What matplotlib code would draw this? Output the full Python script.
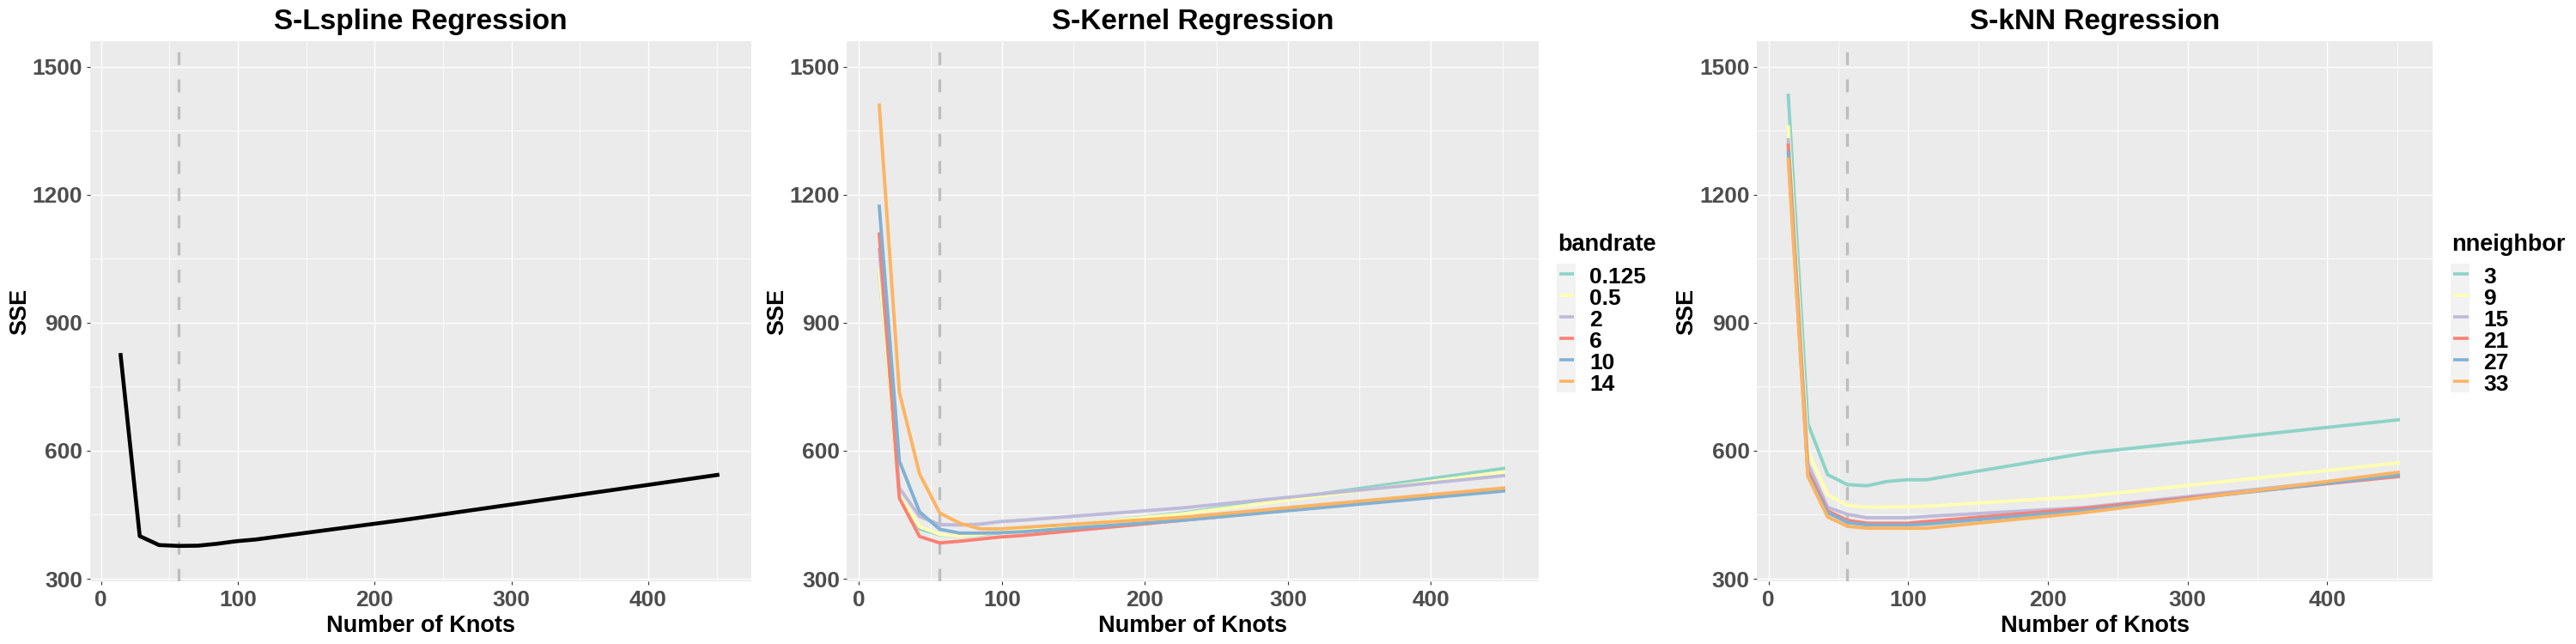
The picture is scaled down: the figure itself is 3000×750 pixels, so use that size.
import numpy as np
import matplotlib
matplotlib.use("Agg")
import matplotlib.pyplot as plt
from matplotlib.lines import Line2D
from matplotlib.patches import Rectangle
from matplotlib.ticker import FixedLocator

# =====================================================
# Data
# =====================================================

knots = [14.125, 28.25, 42.375, 56.5, 70.625, 84.75, 98.875, 113, 226, 452]
best_knots = 56.5

lspline_sse = [829, 400, 379, 377, 377.5, 382, 388, 392, 440, 544]

bandrate_labels = ["0.125", "0.5", "2", "6", "10", "14"]
kernel_sse = [
    [1022, 497, 417, 403, 400, 403, 408, 413, 454, 559],
    [1027, 496, 422, 404, 400, 404, 410, 415, 452, 551],
    [1076, 513, 446, 427, 426, 428, 434, 437, 466, 542],
    [1112, 489, 399, 384, 388, 393, 398, 401, 437, 509],
    [1177, 576, 457, 416, 407, 407, 408, 410, 437, 506],
    [1414, 737, 546, 454, 430, 417, 417, 420, 444, 513],
]

nneighbor_labels = ["3", "9", "15", "21", "27", "33"]
knn_sse = [
    [1437, 664, 544, 520.6, 518, 528, 532, 532, 594, 673],
    [1363, 600, 497, 472, 467.5, 468, 469, 470, 493, 572],
    [1333, 570, 467.5, 451, 443, 443, 443, 446, 467, 545],
    [1320, 553, 459, 437, 430, 430, 430, 434, 465, 540],
    [1303, 545, 455, 432, 426, 426, 426, 428, 460, 543],
    [1287, 539.5, 445, 423, 418.4, 418.4, 418.4, 418.4, 455, 550],
]

set3 = ["#8DD3C7", "#FFFFB3", "#BEBADA", "#FB8072", "#80B1D3", "#FDB462"]

# =====================================================
# Figure / layout (pixel based)
# =====================================================

W, H = 3000, 750

plt.rcParams["font.family"] = ["Liberation Sans", "DejaVu Sans"]
plt.rcParams["font.weight"] = "bold"

fig = plt.figure(figsize=(W / 100, H / 100), dpi=100)
fig.patch.set_facecolor("white")

P_TOP, P_BOT = 48, 677
panels = [
    (104.5, 875),
    (986.5, 1792),
    (2046, 2833),
]


def fx(px):
    return px / W


def fy(py):
    return 1 - py / H


def make_panel(x0, x1, title):

    ax = fig.add_axes([
        fx(x0),
        fy(P_BOT),
        (x1 - x0) / W,
        (P_BOT - P_TOP) / H,
    ])

    ax.set_facecolor("#EBEBEB")

    for s in ax.spines.values():
        s.set_visible(False)

    ax.set_xlim(-8.3, 475.4)
    ax.set_ylim(294, 1560)

    ax.xaxis.set_major_locator(FixedLocator([0, 100, 200, 300, 400]))
    ax.xaxis.set_minor_locator(FixedLocator([50, 150, 250, 350, 450]))
    ax.yaxis.set_major_locator(FixedLocator([300, 600, 900, 1200, 1500]))
    ax.yaxis.set_minor_locator(FixedLocator([450, 750, 1050, 1350]))

    ax.grid(which="major", color="white", lw=1.0)
    ax.grid(which="minor", color="white", lw=0.6)
    ax.set_axisbelow(True)

    ax.tick_params(
        which="major",
        length=3.1,
        width=0.8,
        color="#333333",
        labelsize=19,
        labelcolor="#4D4D4D",
    )
    ax.tick_params(axis="x", which="major", pad=4.3)
    ax.tick_params(axis="y", which="major", pad=2.8)
    ax.tick_params(which="minor", length=0)

    for lab in ax.get_xticklabels() + ax.get_yticklabels():
        lab.set_fontweight("bold")

    ax.set_title(title, fontsize=24, fontweight="bold", pad=10.4)

    ax.set_xlabel("Number of Knots", fontsize=19.5, fontweight="bold")
    ax.xaxis.label.set_va("baseline")
    ax.xaxis.set_label_coords(0.5, (P_BOT - 736) / (P_BOT - P_TOP))

    ax.set_ylabel("SSE", fontsize=19.5, fontweight="bold")
    ax.yaxis.label.set(rotation_mode="anchor", va="baseline", ha="center")
    ax.yaxis.set_label_coords(-74.3 / (x1 - x0), 0.5)

    ax.axvline(
        best_knots,
        color="#BEBEBE",
        lw=2.4,
        dashes=(4.5, 5.0),
        zorder=1.5,
    )

    return ax


def draw_legend(box_x, title, labels):

    fig.text(
        fx(box_x + 1.6), fy(292.5), title,
        fontsize=19.5, fontweight="bold",
        ha="left", va="baseline",
    )

    row_h = 25
    top = 306.7

    fig.patches.append(Rectangle(
        (fx(box_x), fy(top + row_h * len(labels))),
        22.3 / W,
        row_h * len(labels) / H,
        transform=fig.transFigure,
        facecolor="#F2F2F2",
        edgecolor="none",
    ))

    for i, lab in enumerate(labels):

        yc = top + row_h * (i + 0.5)

        fig.lines.append(Line2D(
            [fx(box_x + 3.3), fx(box_x + 20.6)],
            [fy(yc), fy(yc)],
            transform=fig.transFigure,
            color=set3[i],
            lw=2.6,
            solid_capstyle="butt",
        ))

        fig.text(
            fx(box_x + 38.3), fy(yc + 10.4), lab,
            fontsize=19, fontweight="bold",
            ha="left", va="baseline",
        )


# =====================================================
# Panels
# =====================================================

ax1 = make_panel(*panels[0], "S-Lspline Regression")
ax1.plot(
    knots, lspline_sse,
    color="black", lw=3.3,
    solid_capstyle="butt", solid_joinstyle="round",
    zorder=2,
)

ax2 = make_panel(*panels[1], "S-Kernel Regression")
for i, series in enumerate(kernel_sse):
    ax2.plot(
        knots, series,
        color=set3[i], lw=2.8,
        solid_capstyle="butt", solid_joinstyle="round",
        zorder=2,
    )

ax3 = make_panel(*panels[2], "S-kNN Regression")
for i, series in enumerate(knn_sse):
    ax3.plot(
        knots, series,
        color=set3[i], lw=2.8,
        solid_capstyle="butt", solid_joinstyle="round",
        zorder=2,
    )

draw_legend(1812.7, "bandrate", bandrate_labels)
draw_legend(2854.0, "nneighbor", nneighbor_labels)

fig.savefig("out.png", dpi=100, facecolor="white")
